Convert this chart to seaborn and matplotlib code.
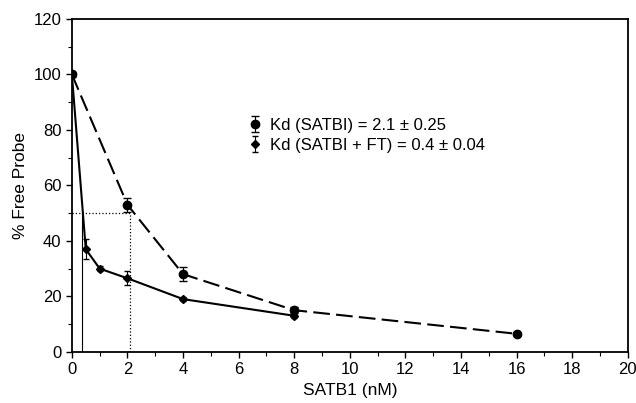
import numpy as np
import pandas as pd
import matplotlib
matplotlib.use("Agg")
import matplotlib.pyplot as plt
import seaborn as sns

# data
satb_x = [0, 2, 4, 8, 16]
satb_y = [100, 53, 28, 15, 6.5]
satb_err = [0.8, 2.5, 2.5, 1.0, 0.5]

ft_x = [0, 0.5, 1, 2, 4, 8]
ft_y = [100, 37, 30, 26.5, 19, 13]
ft_err = [0.8, 3.5, 1.0, 2.5, 0.8, 0.8]

label_satb = "Kd (SATBI) = 2.1 ± 0.25"
label_ft = "Kd (SATBI + FT) = 0.4 ± 0.04"

kd_satb = 2.1
kd_ft = 0.35

sns.set_style("ticks", {'text.color': 'black', 'axes.labelcolor': 'black',
                        'xtick.color': 'black', 'ytick.color': 'black'})
plt.rcParams['font.family'] = ['Liberation Sans', 'DejaVu Sans']

df_satb = pd.DataFrame({'x': satb_x, 'y': satb_y})
df_ft = pd.DataFrame({'x': ft_x, 'y': ft_y})

fig = plt.figure(figsize=(6.36, 4.03), dpi=100)
ax = fig.add_axes([0.113, 0.127, 0.874, 0.826])

sns.lineplot(data=df_satb, x='x', y='y', ax=ax, color='black', linestyle=(0, (8, 3)),
             linewidth=1.5, legend=False)
sns.lineplot(data=df_ft, x='x', y='y', ax=ax, color='black', linewidth=1.5, legend=False)

ax.errorbar(satb_x, satb_y, yerr=satb_err, fmt='o', color='black', markersize=6,
            capsize=3, elinewidth=0.8, label=label_satb)
ax.errorbar(ft_x, ft_y, yerr=ft_err, fmt='D', color='black', markersize=4.5,
            capsize=2.5, elinewidth=0.8, label=label_ft)

# guide lines for Kd
ax.plot([0, kd_satb], [50, 50], color='black', linestyle=':', linewidth=0.9)
ax.plot([kd_satb, kd_satb], [0, 50], color='black', linestyle=':', linewidth=0.9)
ax.plot([kd_ft, kd_ft], [0, 50], color='black', linewidth=0.8)

ax.set_xlim(0, 20)
ax.set_ylim(0, 120)
ax.set_xticks(range(0, 21, 2))
ax.set_xticks(range(0, 21, 1), minor=True)
ax.set_yticks(range(0, 121, 20))
ax.set_yticks(range(0, 121, 10), minor=True)
ax.tick_params(axis='both', which='major', labelsize=12, length=4, width=1,
               color='black', labelcolor='black')
ax.tick_params(axis='both', which='minor', length=3, width=0.8, color='black')

for s in ax.spines.values():
    s.set_visible(True)
    s.set_linewidth(1.3)
    s.set_color('black')

ax.set_xlabel('SATB1 (nM)', fontsize=12.5, color='black')
ax.set_ylabel('% Free Probe', fontsize=12.5, color='black')

leg = ax.legend(loc='upper left', bbox_to_anchor=(0.288, 0.748), frameon=False, fontsize=12,
                handlelength=1.0, handletextpad=0.4, labelspacing=0.3)
for t in leg.get_texts():
    t.set_color('black')

fig.savefig('out.png', dpi=100)
